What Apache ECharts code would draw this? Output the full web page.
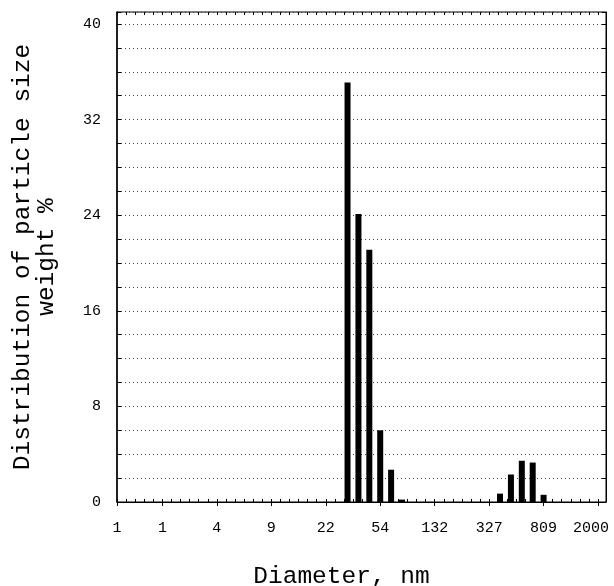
<!DOCTYPE html>
<html>
<head>
<meta charset="utf-8">
<script src="https://cdn.jsdelivr.net/npm/echarts@6/dist/echarts.min.js"></script>
</head>
<body style="margin:0;background:#fff">
<div id="container" style="width:614px;height:586px"></div>
<script>
// bin positions on the diameter axis (5 bins per labelled step) and weight %
var binPos = [17, 18, 19, 20, 21, 22, 31, 32, 33, 34, 35];
var weightPct = [35.1, 24.1, 21.1, 6.0, 2.7, 0.2, 0.7, 2.3, 3.45, 3.3, 0.6];
// labelled diameter ticks (nm)
var tickPos = [-25 / 6, 0, 5, 10, 15, 20, 25, 30, 35, 40];
var tickLabels = ['1', '1', '4', '9', '22', '54', '132', '327', '809', '2000'];

var xMin = -25 / 6, xMax = 40.73;
var mono = 'Liberation Mono';

var chart = echarts.init(document.getElementById('container'));

function labelFor(v) {
    for (var i = 0; i < tickPos.length; i++) {
        if (Math.abs(tickPos[i] - v) < 1e-6) {
            return i === tickPos.length - 1 ? '{last|' + tickLabels[i] + '}' : tickLabels[i];
        }
    }
    return '';
}

var option = {
    animation: false,
    backgroundColor: '#fff',
    grid: {
        left: 117, right: 8, top: 12, bottom: 84, outerBoundsMode: 'none',
        show: true, borderColor: '#000', borderWidth: 1
    },
    xAxis: [
        {
            type: 'value', min: xMin, max: xMax, position: 'bottom',
            name: 'Diameter, nm', nameLocation: 'middle', nameGap: 62,
            nameTextStyle: {fontFamily: mono, fontSize: 24.5, color: '#000', padding: [0, 40, 0, 0]},
            axisLine: {show: true, onZero: false, lineStyle: {color: '#000', width: 1}},
            axisTick: {show: true, inside: false, length: 4, customValues: tickPos, lineStyle: {color: '#000'}},
            axisLabel: {
                customValues: tickPos, margin: 19, fontFamily: mono, fontSize: 15, color: '#000',
                formatter: labelFor,
                rich: {last: {fontFamily: mono, fontSize: 15, color: '#000', padding: [0, 14, 0, 0]}}
            },
            splitLine: {show: false}
        },
        {
            // minor ticks along the bottom edge
            type: 'value', min: xMin, max: xMax, interval: 5 / 6, position: 'bottom',
            axisLine: {show: false, onZero: false},
            axisTick: {show: true, inside: true, length: 3, lineStyle: {color: '#000'}},
            axisLabel: {show: false}, splitLine: {show: false}
        },
        {
            // minor ticks along the top edge
            type: 'value', min: xMin, max: xMax, interval: 5 / 6, position: 'top',
            axisLine: {show: false, onZero: false},
            axisTick: {show: true, inside: true, length: 3, lineStyle: {color: '#000'}},
            axisLabel: {show: false}, splitLine: {show: false}
        }
    ],
    yAxis: [
        {
            type: 'value', min: 0, max: 41, interval: 2, position: 'left',
            name: 'Distribution of particle size\nweight %', nameLocation: 'middle', nameGap: 58, nameRotate: 90,
            nameTextStyle: {fontFamily: mono, fontSize: 24.5, lineHeight: 24, color: '#000'},
            axisLine: {show: true, onZero: false, lineStyle: {color: '#000', width: 1.5}},
            axisTick: {show: true, inside: true, length: 4, lineStyle: {color: '#000'}},
            axisLabel: {
                margin: 16, fontFamily: mono, fontSize: 15, color: '#000',
                formatter: function (v) { return (v % 8 === 0 && v <= 40) ? String(v) : ''; }
            },
            splitLine: {show: true, lineStyle: {color: '#444', width: 1, type: [1, 3]}}
        },
        {
            type: 'value', min: 0, max: 41, interval: 2, position: 'right',
            axisLine: {show: true, onZero: false, lineStyle: {color: '#000'}},
            axisTick: {show: true, inside: true, length: 4, lineStyle: {color: '#000'}},
            axisLabel: {show: false}, splitLine: {show: false}
        }
    ],
    series: [{
        type: 'bar',
        xAxisIndex: 0,
        yAxisIndex: 0,
        barWidth: 6,
        itemStyle: {color: '#000'},
        data: binPos.map(function (p, i) { return [p, weightPct[i]]; })
    }]
};

chart.setOption(option);
</script>
</body>
</html>
